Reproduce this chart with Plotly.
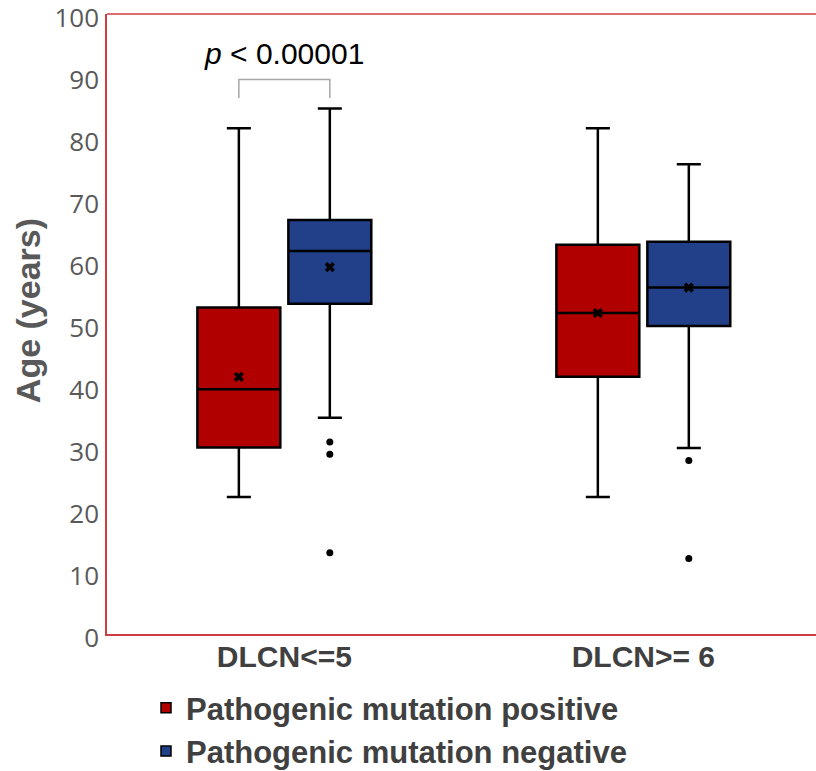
import plotly.graph_objects as go

# ---- data ----
categories = ["DLCN<=5", "DLCN>= 6"]
series_names = ["Pathogenic mutation positive", "Pathogenic mutation negative"]

pos_upper = [81.6, 81.6]
pos_q3 = [52.7, 62.8]
pos_median = [39.5, 51.8]
pos_q1 = [30.1, 41.5]
pos_lower = [22.1, 22.1]
pos_mean = [41.5, 51.8]
pos_outliers = [[], []]

neg_upper = [84.8, 75.8]
neg_q3 = [66.8, 63.3]
neg_median = [61.8, 55.9]
neg_q1 = [53.3, 49.7]
neg_lower = [34.9, 30.0]
neg_mean = [59.2, 55.9]
neg_outliers = [[31.0, 29.0, 13.1], [28.0, 12.2]]

p_text = "<i>p</i> < 0.00001"

# ---- style ----
colors = ["#B00000", "#22408A"]
axis_red = "#CF3C40"
offset = 0.1267          # half distance between grouped boxes (category units)
box_w = 0.231            # box width (category units)

fig = go.Figure()

stats = [
    (pos_q1, pos_median, pos_q3, pos_lower, pos_upper, pos_mean, pos_outliers),
    (neg_q1, neg_median, neg_q3, neg_lower, neg_upper, neg_mean, neg_outliers),
]
signs = [-1, 1]

for si, (q1, med, q3, lo, up, mean, outs) in enumerate(stats):
    xs = [i + signs[si] * offset for i in range(len(categories))]
    fig.add_trace(go.Box(
        x=xs, q1=q1, median=med, q3=q3, lowerfence=lo, upperfence=up,
        width=box_w, whiskerwidth=0.29,
        fillcolor=colors[si], line=dict(color="black", width=2.5),
        boxpoints=False, name=series_names[si], showlegend=False,
        hoverinfo="skip",
    ))
    fig.add_trace(go.Scatter(
        x=xs, y=mean, mode="markers",
        marker=dict(symbol="x", size=9, color="black", line=dict(width=0)),
        showlegend=False, hoverinfo="skip",
    ))
    ox, oy = [], []
    for i, vals in enumerate(outs):
        for v in vals:
            ox.append(xs[i])
            oy.append(v)
    fig.add_trace(go.Scatter(
        x=ox, y=oy, mode="markers",
        marker=dict(symbol="circle", size=7, color="black"),
        showlegend=False, hoverinfo="skip",
    ))
    # legend entry: small square swatch
    fig.add_trace(go.Scatter(
        x=[None], y=[None], mode="markers",
        marker=dict(symbol="square", size=10, color=colors[si],
                    line=dict(color="black", width=1.5)),
        name=f"<b>{series_names[si]}</b>", showlegend=True, hoverinfo="skip",
    ))

# significance bracket between the two boxes of the first category
bx0 = 0 - offset
bx1 = 0 + offset
fig.add_shape(type="path",
              path=f"M {bx0} 86.5 L {bx0} 89.5 L {bx1} 89.5 L {bx1} 86.5",
              xref="x", yref="y", line=dict(color="#A6A6A6", width=1.5))
fig.add_annotation(x=0, y=93.7, xref="x", yref="y", text=p_text,
                   showarrow=False, font=dict(family="Liberation Sans", size=30, color="black"))

# top frame line
fig.add_shape(type="line", xref="paper", yref="paper", x0=0, x1=1, y0=1, y1=1,
              line=dict(color=axis_red, width=1.5))

# y-axis title as annotation
fig.add_annotation(xref="paper", yref="y", x=0, y=52.1, xshift=-79,
                   text="<b>Age (years)</b>", textangle=-90, showarrow=False,
                   xanchor="center", yanchor="middle",
                   font=dict(family="Liberation Sans", size=34, color="#595959"))

fig.update_layout(
    width=816, height=771,
    margin=dict(l=107, r=0, t=14, b=137, autoexpand=False),
    plot_bgcolor="white", paper_bgcolor="white",
    xaxis=dict(
        range=[-0.494, 1.481], tickvals=list(range(len(categories))),
        ticktext=[f"<b>{c}</b>" for c in categories],
        tickfont=dict(family="Liberation Sans", size=30, color="#404040"),
        showline=True, linecolor=axis_red, linewidth=1.5, showgrid=False,
        zeroline=False, ticks="", ticklabelstandoff=-5,
    ),
    yaxis=dict(
        range=[0, 100.05], dtick=10, tick0=0,
        tickfont=dict(family="Open Sans", size=26, color="#595959"),
        showline=True, linecolor=axis_red, linewidth=1.5, showgrid=False,
        zeroline=False, ticks="", ticklabelstandoff=1, ticklabelshift=4,
        ticklabeloverflow="allow",
    ),
    legend=dict(
        orientation="v", x=0.055, xanchor="left", y=-0.076, yanchor="top",
        font=dict(family="Liberation Sans", size=31, color="#404040"),
        bgcolor="rgba(0,0,0,0)", tracegroupgap=0, itemwidth=30,
    ),
    showlegend=True,
)

fig.write_html("out.html", config={"displayModeBar": False},
               post_script="document.body.style.margin='0px';")
